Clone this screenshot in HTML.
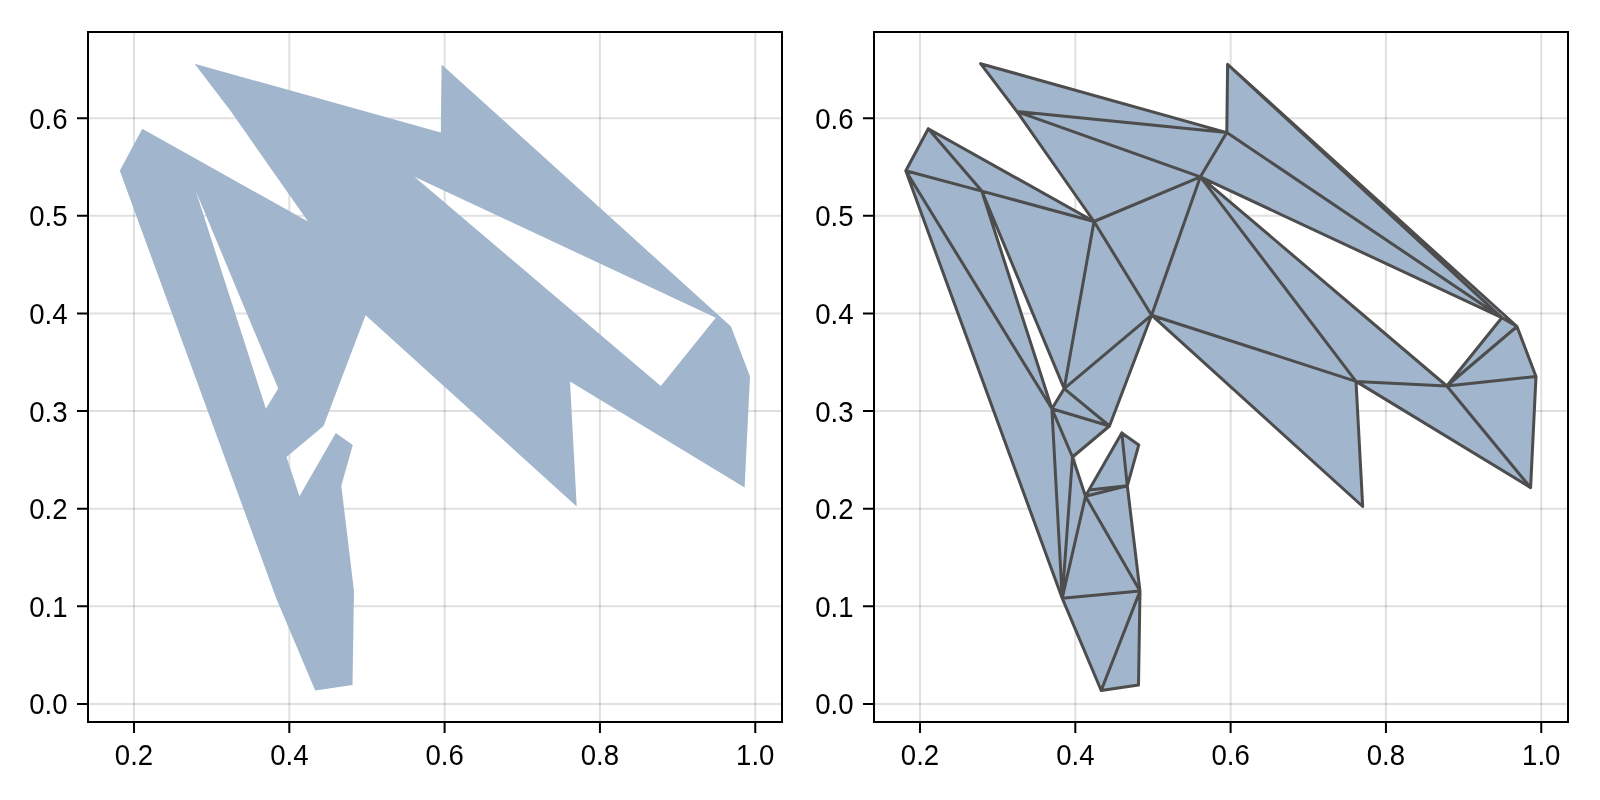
<!DOCTYPE html><html><head><meta charset="utf-8"><style>html,body{margin:0;padding:0;background:#fff;width:1600px;height:800px;overflow:hidden}svg{display:block}svg text{font-family:"Liberation Sans",sans-serif;font-size:29.5px;fill:#000}</style></head><body>
<svg width="1600" height="800" viewBox="0 0 1600 800">
<rect width="1600" height="800" fill="#fff"/>
<line x1="134.00" y1="32" x2="134.00" y2="722" stroke="#000" stroke-opacity="0.12" stroke-width="2"/>
<line x1="289.31" y1="32" x2="289.31" y2="722" stroke="#000" stroke-opacity="0.12" stroke-width="2"/>
<line x1="444.62" y1="32" x2="444.62" y2="722" stroke="#000" stroke-opacity="0.12" stroke-width="2"/>
<line x1="599.94" y1="32" x2="599.94" y2="722" stroke="#000" stroke-opacity="0.12" stroke-width="2"/>
<line x1="755.25" y1="32" x2="755.25" y2="722" stroke="#000" stroke-opacity="0.12" stroke-width="2"/>
<line x1="88" y1="703.90" x2="782" y2="703.90" stroke="#000" stroke-opacity="0.12" stroke-width="2"/>
<line x1="88" y1="606.29" x2="782" y2="606.29" stroke="#000" stroke-opacity="0.12" stroke-width="2"/>
<line x1="88" y1="508.68" x2="782" y2="508.68" stroke="#000" stroke-opacity="0.12" stroke-width="2"/>
<line x1="88" y1="411.07" x2="782" y2="411.07" stroke="#000" stroke-opacity="0.12" stroke-width="2"/>
<line x1="88" y1="313.46" x2="782" y2="313.46" stroke="#000" stroke-opacity="0.12" stroke-width="2"/>
<line x1="88" y1="215.85" x2="782" y2="215.85" stroke="#000" stroke-opacity="0.12" stroke-width="2"/>
<line x1="88" y1="118.24" x2="782" y2="118.24" stroke="#000" stroke-opacity="0.12" stroke-width="2"/>
<path d="M440.80 132.60L231.00 111.60L194.60 63.70ZM231.00 111.60L440.80 132.60L414.40 176.80ZM440.80 132.60L441.60 64.40L715.80 317.70ZM731.00 326.50L715.80 317.70L441.60 64.40ZM715.80 317.70L414.40 176.80L440.80 132.60ZM195.80 191.10L119.80 170.80L142.30 128.70ZM308.00 221.50L195.80 191.10L142.30 128.70ZM414.40 176.80L308.00 221.50L231.00 111.60ZM119.80 170.80L195.80 191.10L265.90 408.80ZM195.80 191.10L308.00 221.50L278.20 388.60ZM308.00 221.50L365.60 315.20L278.20 388.60ZM308.00 221.50L414.40 176.80L365.60 315.20ZM119.80 170.80L265.90 408.80L276.20 598.20ZM323.50 426.00L278.20 388.60L365.60 315.20ZM323.50 426.00L265.90 408.80L278.20 388.60ZM265.90 408.80L323.50 426.00L286.50 457.00ZM265.90 408.80L286.50 457.00L276.20 598.20ZM286.50 457.00L299.50 496.30L276.20 598.20ZM354.00 591.10L276.20 598.20L299.50 496.30ZM299.50 496.30L341.30 485.80L354.00 591.10ZM299.50 496.30L303.00 490.00L341.30 485.80ZM303.00 490.00L335.80 432.90L341.30 485.80ZM335.80 432.90L352.80 444.90L341.30 485.80ZM276.20 598.20L354.00 591.10L315.20 690.50ZM352.50 685.00L315.20 690.50L354.00 591.10ZM570.00 381.40L365.60 315.20L414.40 176.80ZM365.60 315.20L570.00 381.40L576.70 506.50ZM660.80 386.00L570.00 381.40L414.40 176.80ZM570.00 381.40L660.80 386.00L744.60 487.60ZM660.80 386.00L750.00 376.50L744.60 487.60ZM660.80 386.00L731.00 326.50L750.00 376.50ZM660.80 386.00L715.80 317.70L731.00 326.50Z" fill="#a1b5cd" fill-rule="nonzero"/>
<rect x="88" y="32" width="694" height="690" fill="none" stroke="#000" stroke-width="2"/>
<path d="M134.00 722V733M289.31 722V733M444.62 722V733M599.94 722V733M755.25 722V733M88 703.90H77M88 606.29H77M88 508.68H77M88 411.07H77M88 313.46H77M88 215.85H77M88 118.24H77" stroke="#000" stroke-width="2" fill="none"/>
<g opacity="0.999">
<text transform="translate(134.00,764.8) scale(0.935,1)" text-anchor="middle">0.2</text>
<text transform="translate(289.31,764.8) scale(0.935,1)" text-anchor="middle">0.4</text>
<text transform="translate(444.62,764.8) scale(0.935,1)" text-anchor="middle">0.6</text>
<text transform="translate(599.94,764.8) scale(0.935,1)" text-anchor="middle">0.8</text>
<text transform="translate(755.25,764.8) scale(0.935,1)" text-anchor="middle">1.0</text>
<text transform="translate(67.5,714.40) scale(0.935,1)" text-anchor="end">0.0</text>
<text transform="translate(67.5,616.79) scale(0.935,1)" text-anchor="end">0.1</text>
<text transform="translate(67.5,519.18) scale(0.935,1)" text-anchor="end">0.2</text>
<text transform="translate(67.5,421.57) scale(0.935,1)" text-anchor="end">0.3</text>
<text transform="translate(67.5,323.96) scale(0.935,1)" text-anchor="end">0.4</text>
<text transform="translate(67.5,226.35) scale(0.935,1)" text-anchor="end">0.5</text>
<text transform="translate(67.5,128.74) scale(0.935,1)" text-anchor="end">0.6</text>
</g>
<line x1="920.00" y1="32" x2="920.00" y2="722" stroke="#000" stroke-opacity="0.12" stroke-width="2"/>
<line x1="1075.31" y1="32" x2="1075.31" y2="722" stroke="#000" stroke-opacity="0.12" stroke-width="2"/>
<line x1="1230.62" y1="32" x2="1230.62" y2="722" stroke="#000" stroke-opacity="0.12" stroke-width="2"/>
<line x1="1385.94" y1="32" x2="1385.94" y2="722" stroke="#000" stroke-opacity="0.12" stroke-width="2"/>
<line x1="1541.25" y1="32" x2="1541.25" y2="722" stroke="#000" stroke-opacity="0.12" stroke-width="2"/>
<line x1="874" y1="703.90" x2="1568" y2="703.90" stroke="#000" stroke-opacity="0.12" stroke-width="2"/>
<line x1="874" y1="606.29" x2="1568" y2="606.29" stroke="#000" stroke-opacity="0.12" stroke-width="2"/>
<line x1="874" y1="508.68" x2="1568" y2="508.68" stroke="#000" stroke-opacity="0.12" stroke-width="2"/>
<line x1="874" y1="411.07" x2="1568" y2="411.07" stroke="#000" stroke-opacity="0.12" stroke-width="2"/>
<line x1="874" y1="313.46" x2="1568" y2="313.46" stroke="#000" stroke-opacity="0.12" stroke-width="2"/>
<line x1="874" y1="215.85" x2="1568" y2="215.85" stroke="#000" stroke-opacity="0.12" stroke-width="2"/>
<line x1="874" y1="118.24" x2="1568" y2="118.24" stroke="#000" stroke-opacity="0.12" stroke-width="2"/>
<path d="M1226.80 132.60L1017.00 111.60L980.60 63.70ZM1017.00 111.60L1226.80 132.60L1200.40 176.80ZM1226.80 132.60L1227.60 64.40L1501.80 317.70ZM1517.00 326.50L1501.80 317.70L1227.60 64.40ZM1501.80 317.70L1200.40 176.80L1226.80 132.60ZM981.80 191.10L905.80 170.80L928.30 128.70ZM1094.00 221.50L981.80 191.10L928.30 128.70ZM1200.40 176.80L1094.00 221.50L1017.00 111.60ZM905.80 170.80L981.80 191.10L1051.90 408.80ZM981.80 191.10L1094.00 221.50L1064.20 388.60ZM1094.00 221.50L1151.60 315.20L1064.20 388.60ZM1094.00 221.50L1200.40 176.80L1151.60 315.20ZM905.80 170.80L1051.90 408.80L1062.20 598.20ZM1109.50 426.00L1064.20 388.60L1151.60 315.20ZM1109.50 426.00L1051.90 408.80L1064.20 388.60ZM1051.90 408.80L1109.50 426.00L1072.50 457.00ZM1051.90 408.80L1072.50 457.00L1062.20 598.20ZM1072.50 457.00L1085.50 496.30L1062.20 598.20ZM1140.00 591.10L1062.20 598.20L1085.50 496.30ZM1085.50 496.30L1127.30 485.80L1140.00 591.10ZM1085.50 496.30L1089.00 490.00L1127.30 485.80ZM1089.00 490.00L1121.80 432.90L1127.30 485.80ZM1121.80 432.90L1138.80 444.90L1127.30 485.80ZM1062.20 598.20L1140.00 591.10L1101.20 690.50ZM1138.50 685.00L1101.20 690.50L1140.00 591.10ZM1356.00 381.40L1151.60 315.20L1200.40 176.80ZM1151.60 315.20L1356.00 381.40L1362.70 506.50ZM1446.80 386.00L1356.00 381.40L1200.40 176.80ZM1356.00 381.40L1446.80 386.00L1530.60 487.60ZM1446.80 386.00L1536.00 376.50L1530.60 487.60ZM1446.80 386.00L1517.00 326.50L1536.00 376.50ZM1446.80 386.00L1501.80 317.70L1517.00 326.50Z" fill="#a1b5cd" fill-rule="nonzero"/>
<path d="M980.6 63.7L1017.0 111.6M980.6 63.7L1226.8 132.6M1017.0 111.6L1226.8 132.6M1017.0 111.6L1200.4 176.8M1017.0 111.6L1094.0 221.5M1227.6 64.4L1226.8 132.6M1226.8 132.6L1200.4 176.8M1227.6 64.4L1501.8 317.7M1227.6 64.4L1517.0 326.5M1226.8 132.6L1501.8 317.7M1200.4 176.8L1501.8 317.7M928.3 128.7L905.8 170.8M928.3 128.7L981.8 191.1M928.3 128.7L1094.0 221.5M905.8 170.8L981.8 191.1M981.8 191.1L1094.0 221.5M905.8 170.8L1051.9 408.8M905.8 170.8L1062.2 598.2M981.8 191.1L1064.2 388.6M981.8 191.1L1051.9 408.8M1094.0 221.5L1200.4 176.8M1094.0 221.5L1064.2 388.6M1094.0 221.5L1151.6 315.2M1200.4 176.8L1151.6 315.2M1200.4 176.8L1356.0 381.4M1200.4 176.8L1446.8 386.0M1151.6 315.2L1064.2 388.6M1151.6 315.2L1109.5 426.0M1064.2 388.6L1051.9 408.8M1064.2 388.6L1109.5 426.0M1051.9 408.8L1109.5 426.0M1051.9 408.8L1072.5 457.0M1051.9 408.8L1062.2 598.2M1109.5 426.0L1072.5 457.0M1072.5 457.0L1062.2 598.2M1072.5 457.0L1085.5 496.3M1085.5 496.3L1062.2 598.2M1089.0 490.0L1121.8 432.9M1085.5 496.3L1127.3 485.8M1089.0 490.0L1127.3 485.8M1121.8 432.9L1127.3 485.8M1121.8 432.9L1138.8 444.9M1138.8 444.9L1127.3 485.8M1085.5 496.3L1089.0 490.0M1085.5 496.3L1140.0 591.1M1127.3 485.8L1140.0 591.1M1062.2 598.2L1140.0 591.1M1062.2 598.2L1101.2 690.5M1140.0 591.1L1101.2 690.5M1140.0 591.1L1138.5 685.0M1101.2 690.5L1138.5 685.0M1151.6 315.2L1356.0 381.4M1151.6 315.2L1362.7 506.5M1356.0 381.4L1362.7 506.5M1356.0 381.4L1446.8 386.0M1356.0 381.4L1530.6 487.6M1446.8 386.0L1501.8 317.7M1446.8 386.0L1517.0 326.5M1446.8 386.0L1536.0 376.5M1446.8 386.0L1530.6 487.6M1501.8 317.7L1517.0 326.5M1517.0 326.5L1536.0 376.5M1536.0 376.5L1530.6 487.6" fill="none" stroke="#4d4d4d" stroke-width="3" stroke-linecap="round" stroke-linejoin="round"/>
<rect x="874" y="32" width="694" height="690" fill="none" stroke="#000" stroke-width="2"/>
<path d="M920.00 722V733M1075.31 722V733M1230.62 722V733M1385.94 722V733M1541.25 722V733M874 703.90H863M874 606.29H863M874 508.68H863M874 411.07H863M874 313.46H863M874 215.85H863M874 118.24H863" stroke="#000" stroke-width="2" fill="none"/>
<g opacity="0.999">
<text transform="translate(920.00,764.8) scale(0.935,1)" text-anchor="middle">0.2</text>
<text transform="translate(1075.31,764.8) scale(0.935,1)" text-anchor="middle">0.4</text>
<text transform="translate(1230.62,764.8) scale(0.935,1)" text-anchor="middle">0.6</text>
<text transform="translate(1385.94,764.8) scale(0.935,1)" text-anchor="middle">0.8</text>
<text transform="translate(1541.25,764.8) scale(0.935,1)" text-anchor="middle">1.0</text>
<text transform="translate(853.5,714.40) scale(0.935,1)" text-anchor="end">0.0</text>
<text transform="translate(853.5,616.79) scale(0.935,1)" text-anchor="end">0.1</text>
<text transform="translate(853.5,519.18) scale(0.935,1)" text-anchor="end">0.2</text>
<text transform="translate(853.5,421.57) scale(0.935,1)" text-anchor="end">0.3</text>
<text transform="translate(853.5,323.96) scale(0.935,1)" text-anchor="end">0.4</text>
<text transform="translate(853.5,226.35) scale(0.935,1)" text-anchor="end">0.5</text>
<text transform="translate(853.5,128.74) scale(0.935,1)" text-anchor="end">0.6</text>
</g>
</svg></body></html>
